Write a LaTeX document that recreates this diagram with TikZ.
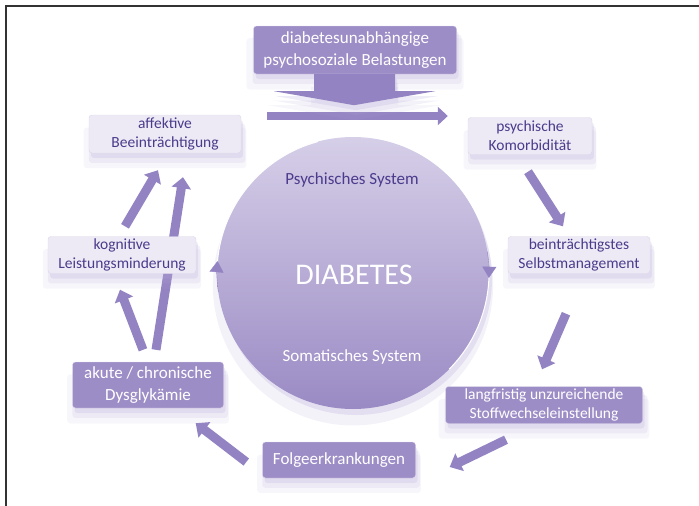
\documentclass[tikz,border=0pt]{standalone}
\usepackage{fontspec}
\setmainfont{Carlito}
\usepackage{tikz}
\usetikzlibrary{positioning,arrows.meta,shadows,backgrounds,calc}
\definecolor{boxdark}{HTML}{9D8DC6}
\definecolor{boxlight}{HTML}{EEEAF5}
\definecolor{boxedge}{HTML}{DCD4EA}
\definecolor{textdark}{HTML}{4B3B8C}
\definecolor{arrowfill}{HTML}{9383C2}
\definecolor{shadowcol}{HTML}{B3A7D6}
\definecolor{circtop}{HTML}{D6CFE8}
\definecolor{circbot}{HTML}{9A8AC4}
\tikzset{
softshadow/.style={
drop shadow={shadow xshift=0pt,shadow yshift=-13pt,opacity=.10,fill=shadowcol,shadow scale=1.07},
drop shadow={shadow xshift=2pt,shadow yshift=-9pt,opacity=.15,fill=shadowcol,shadow scale=1.03},
drop shadow={shadow xshift=2pt,shadow yshift=-5pt,opacity=.22,fill=shadowcol}
},
lightbox/.style={
draw=boxedge,
rounded corners=3pt,
fill=boxlight,
minimum height=37pt,
align=center,
inner sep=2pt,
text=textdark,
font=\fontsize{15.5}{19}\selectfont,
softshadow
},
darkbox/.style={
draw=boxedge,
rounded corners=3pt,
fill=boxdark,
minimum height=37pt,
align=center,
inner sep=2pt,
text=white,
font=\fontsize{17}{22}\selectfont,
softshadow
},
systext/.style={
font=\fontsize{17}{20}\selectfont
},
flow/.style={
draw=arrowfill,
line width=9pt,
-{Triangle[width=19pt,length=11pt]}
},
rim/.style={
draw=white,
line width=1pt
},
circtip/.style={
draw=arrowfill,
line width=.4pt,
-{Triangle[width=14pt,length=11pt,fill=arrowfill]}
},
frameline/.style={
draw=black!80,
line width=1.5pt
}
}
\begin{document}
\begin{tikzpicture}[x=1pt,y=-1pt]
\useasboundingbox (0,0) rectangle (699,506);
\draw[frameline] (699,6) -- (6,6) -- (6,506);

% centre
\node[circle,minimum size=272pt,top color=circtop,bottom color=circbot,
drop shadow={shadow xshift=0pt,shadow yshift=-12pt,opacity=.15,fill=shadowcol,shadow scale=1.03},
drop shadow={shadow xshift=3pt,shadow yshift=-6pt,opacity=.25,fill=shadowcol}](diab) at (353,273){};
\node[systext,text=textdark](psy) at (352,180){Psychisches System};
\node[text=white,font=\fontsize{30}{34}\selectfont](dtext) at (354,275){DIABETES};
\node[systext,text=white](som) at (352,357){Somatisches System};

\draw[rim] ($(diab.center)+(-105:136)$) arc[start angle=-105,end angle=-178,radius=136];
\draw[rim] ($(diab.center)+(2:136)$) arc[start angle=2,end angle=45,radius=136];
\draw[circtip] ($(diab.center)+(-188:136)$) arc[start angle=-188,end angle=-175,radius=136];
\draw[circtip] ($(diab.center)+(-9:136)$) arc[start angle=-9,end angle=2,radius=136];

% boxes
\node[darkbox,minimum width=203pt,minimum height=48pt](belast) at (355,50){diabetesunabhängige\\psychosoziale Belastungen};
\node[lightbox,minimum width=152pt,minimum height=38pt](affekt) at (165,134){affektive\\Beeinträchtigung};
\node[lightbox,minimum width=124pt](komorb) at (530,136){psychische\\Komorbidität};
\node[lightbox,minimum width=148pt](kognit) at (122,255){kognitive\\Leistungsminderung};
\node[lightbox,minimum width=142pt](selbst) at (579,255){beinträchtigstes\\Selbstmanagement};
\node[darkbox,minimum width=151pt,minimum height=46pt](akute) at (148,385){akute / chronische\\Dysglykämie};
\node[darkbox,minimum width=197pt,font=\fontsize{15.5}{19}\selectfont](langfr) at (544,405){langfristig unzureichende\\Stoffwechseleinstellung};
\node[darkbox,minimum width=153pt,minimum height=36pt](folge) at (339,460){Folgeerkrankungen};

% big arrow below the top box
\fill[arrowfill,softshadow] ($(belast.south)+(-41,0)$) -- ++(81,0) -- ++(0,17) -- ++(40,0)
  -- ($(belast.south)+(-1,31)$) -- ($(belast.south)+(-81,17)$) -- ($(belast.south)+(-41,17)$) -- cycle;

\coordinate (hin) at (267,116);

\begin{pgfonlayer}{background}
\draw[flow,line width=8pt,-{Triangle[width=18pt,length=10pt]}](hin) -- ([shift={(-20,-20)}]komorb.west);
\draw[flow]([shift={(-2,17)}]komorb.south) -- ([shift={(-16,-10)}]selbst.north);
\draw[flow]([shift={(-13,40)}]selbst.south) -- ([shift={(-2,-17)}]langfr.north);
\draw[flow]([shift={(-38,16)}]langfr.south) -- ([shift={(34,7)}]folge.east);
\draw[flow]([shift={(-16,2)}]folge.west) -- ([shift={(-28,15)}]akute.south east);
\draw[flow]([shift={(-5,-12)}]akute.north) -- ([shift={(-2,16)}]kognit.south);
\draw[flow]([shift={(8,-12)}]akute.north) -- ([shift={(18,24)}]affekt.south);
\draw[flow]([shift={(3,-10)}]kognit.north) -- ([shift={(-7,17)}]affekt.south);
\end{pgfonlayer}
\end{tikzpicture}
\end{document}
